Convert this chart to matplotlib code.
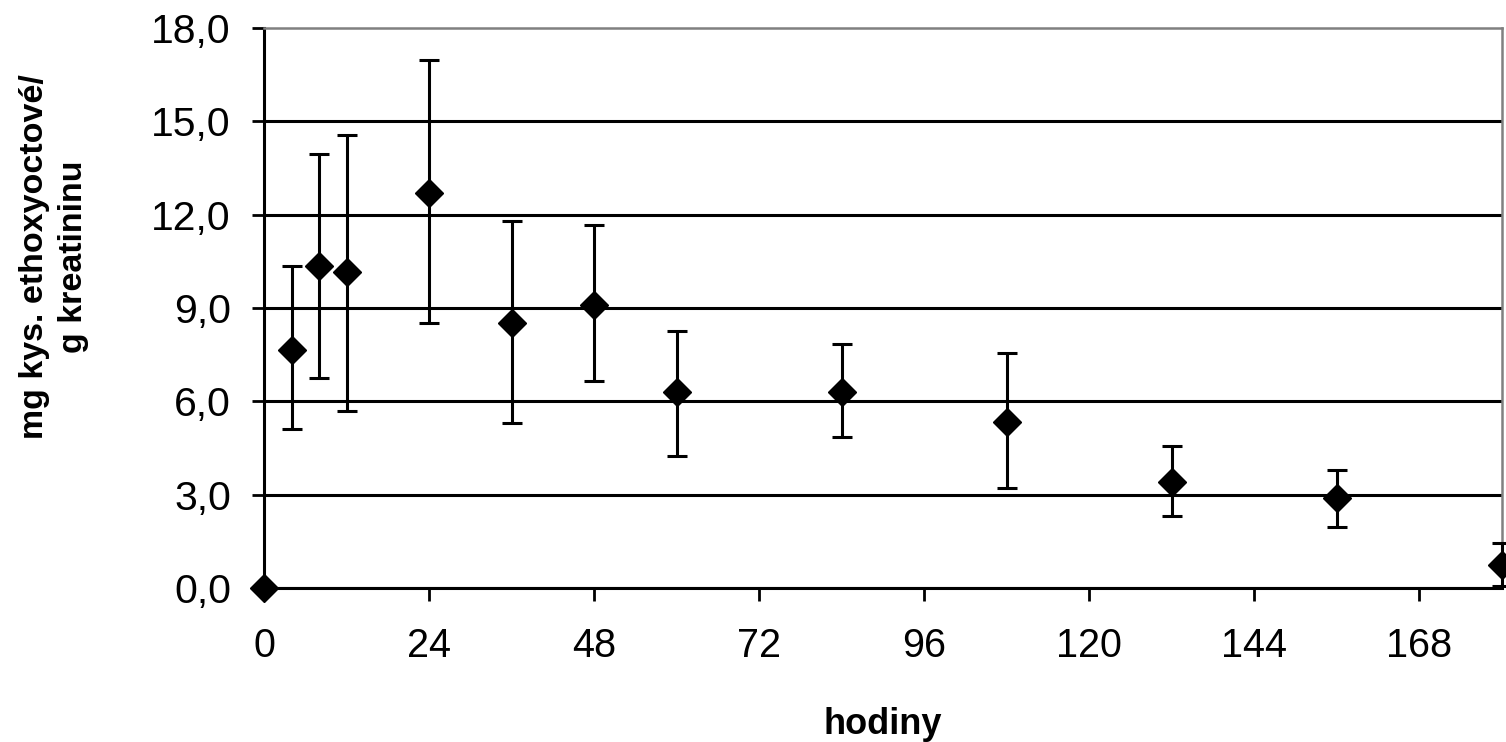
import matplotlib
matplotlib.use("Agg")
import matplotlib.pyplot as plt
from matplotlib.ticker import FuncFormatter
import numpy as np

hours = [0, 4, 8, 12, 24, 36, 48, 60, 84, 108, 132, 156, 180]
mean_val = [0.0, 7.65, 10.35, 10.15, 12.7, 8.5, 9.1, 6.3, 6.3, 5.35, 3.4, 2.9, 0.75]
low_val = [0.0, 5.1, 6.75, 5.7, 8.5, 5.3, 6.65, 4.25, 4.85, 3.2, 2.3, 1.95, 0.05]
high_val = [0.0, 10.35, 13.95, 14.55, 16.95, 11.8, 11.65, 8.25, 7.85, 7.55, 4.55, 3.8, 1.45]
x_ticks = [0, 24, 48, 72, 96, 120, 144, 168]
y_ticks = [0, 3, 6, 9, 12, 15, 18]

plt.rcParams['font.family'] = ['Liberation Sans', 'DejaVu Sans']

fig = plt.figure(figsize=(15.06, 7.42), dpi=100)
ax = fig.add_axes([0.1755, 0.2075, 0.8218, 0.7551])

m = np.array(mean_val)
yerr = [m - np.array(low_val), np.array(high_val) - m]
ax.errorbar(hours, mean_val, yerr=yerr, fmt='none', ecolor='black',
            elinewidth=2.2, capsize=7, capthick=2.2, clip_on=False, zorder=3)
ax.plot(hours, mean_val, linestyle='none', marker='D', markersize=14,
        color='black', clip_on=False, zorder=4)

ax.set_xlim(0, 180)
ax.set_ylim(0, 18)
ax.set_xticks(x_ticks)
ax.set_yticks(y_ticks)
ax.yaxis.set_major_formatter(FuncFormatter(lambda v, p: f"{v:.1f}".replace('.', ',')))

ax.yaxis.grid(True, color='black', linewidth=2.2)
ax.set_axisbelow(True)
ax.yaxis.get_major_ticks()[-1].gridline.set_visible(False)

for side in ['left', 'bottom']:
    ax.spines[side].set_color('black')
    ax.spines[side].set_linewidth(2.2)
for side in ['top', 'right']:
    ax.spines[side].set_color('#808080')
    ax.spines[side].set_linewidth(1.8)

ax.tick_params(axis='both', length=9, width=2, color='black')
ax.tick_params(axis='y', labelsize=29.5, pad=15)
ax.tick_params(axis='x', labelsize=28.5, pad=19)

ax.set_xlabel('hodiny', fontsize=26, fontweight='bold', labelpad=30)
ax.set_ylabel('mg kys. ethoxyoctové/\ng kreatininu', fontsize=24.5,
              fontweight='bold', linespacing=1.3)
ax.yaxis.set_label_coords(-0.142, 0.591)

fig.savefig('out.png', dpi=100)
